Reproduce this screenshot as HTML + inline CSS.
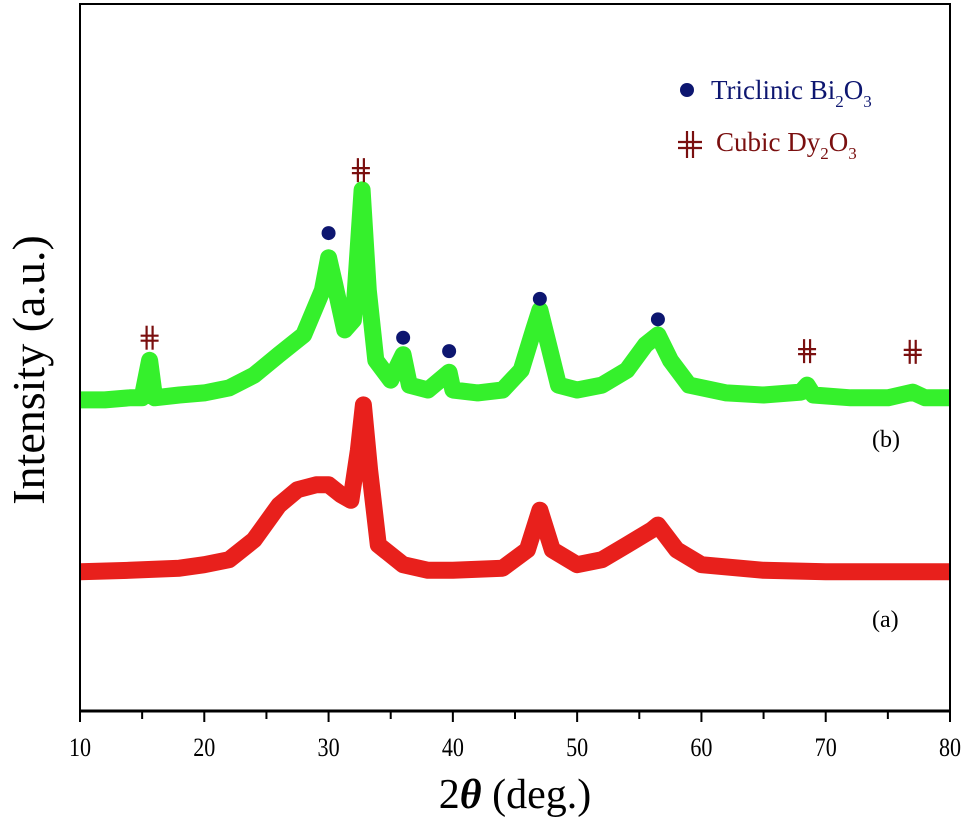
<!DOCTYPE html>
<html><head><meta charset="utf-8"><style>
body{margin:0;background:#fff;}
svg{display:block;font-family:"Liberation Serif",serif;}
</style></head><body>
<svg id="chart" width="969" height="827" viewBox="0 0 969 827" xmlns="http://www.w3.org/2000/svg">
<defs><clipPath id="pc"><rect x="80" y="4" width="870" height="707"/></clipPath></defs>
<g id="plot"></g>
</svg>
<script>
const xTicks=[10,20,30,40,50,60,70,80];
const xMinor=[15,25,35,45,55,65,75];
const greenX=[10,12,14,15,15.6,16,18,20,22,24,26,28,29.5,30,30.5,31.3,32,32.7,33.2,33.8,35,36,36.5,38,39.7,40,42,44,45.5,46.5,47,47.6,48.5,50,52,54,55.5,56.5,57.5,59,62,65,68,68.5,69,72,75,77,78,80];
const greenI=[44.0,44.0,44.3,44.3,49.6,44.3,44.7,45.0,45.7,47.5,50.4,53.2,59.5,64.1,60.3,53.9,55.3,73.7,59.5,49.6,46.8,50.4,46.1,45.4,47.9,45.4,45.0,45.4,48.2,53.9,56.7,52.5,46.1,45.4,46.1,48.2,51.8,53.2,49.6,46.1,45.0,44.7,45.1,46.1,44.7,44.3,44.3,45.1,44.3,44.3];
const redX=[10,14,18,20,22,24,26,27.5,29,30,31,31.8,32.4,32.8,33.3,34,36,38,40,44,46,47,48,50,52,54,56,56.5,58,60,65,70,75,80];
const redI=[19.7,19.9,20.2,20.7,21.4,24.2,29.1,31.3,32.0,32.0,30.6,29.8,36.9,43.3,34.1,23.5,20.7,19.9,19.9,20.2,22.8,28.4,22.8,20.7,21.4,23.5,25.6,26.3,22.8,20.7,19.9,19.7,19.7,19.7];
const biX=[30,36,39.7,47,56.5];
const biI=[67.6,52.8,50.9,58.3,55.4];
const dyX=[15.6,32.6,68.5,77];
const dyI=[52.8,76.5,50.9,50.8];

const L=80,R=950,T=4,B=711;
const sx=v=>L+(v-10)/70*(R-L);
const sy=v=>B-v*(B-T)/100;
const NS="http://www.w3.org/2000/svg";
const g=document.getElementById('plot');
function mk(tag,attrs,parent){const e=document.createElementNS(NS,tag);for(const k in attrs)e.setAttribute(k,attrs[k]);(parent||g).appendChild(e);return e;}

function series(xs,is,color,name){
  const pts=xs.map((x,i)=>sx(x).toFixed(1)+','+sy(is[i]).toFixed(1)).join(' ');
  const p=mk('polyline',{points:pts,fill:'none',stroke:color,'stroke-width':17,'stroke-linejoin':'round','stroke-linecap':'butt','clip-path':'url(#pc)'});
  
  
}
series(redX,redI,'#e8201c','series-a-red');
series(greenX,greenI,'#35f02c','series-b-green');

let f=mk('rect',{x:L,y:T,width:R-L,height:B-T,fill:'none',stroke:'#000','stroke-width':2});


let ax=mk('line',{x1:L,y1:B,x2:R,y2:B,stroke:'#000','stroke-width':3});



xTicks.forEach(v=>{
  const t=mk('line',{x1:sx(v),y1:B,x2:sx(v),y2:B+11,stroke:'#000','stroke-width':2});
  
  
  const lb=mk('text',{x:0,y:0,'font-size':26,'text-anchor':'middle',fill:'#000',transform:'translate('+sx(v)+','+(B+45)+') scale(0.85,1)'});
  lb.textContent=v;
  
  
});
xMinor.forEach(v=>{
  const t=mk('line',{x1:sx(v),y1:B,x2:sx(v),y2:B+8,stroke:'#000','stroke-width':2});
  
  
});

biX.forEach((x,i)=>{
  const c=mk('circle',{cx:sx(x),cy:sy(biI[i]),r:7,fill:'#0d1670'});
  
  
});
function dyMark(cx,cy,name){
  const grp=mk('g',{stroke:'#7a0f0f','stroke-width':2.2});
  
  
  mk('line',{x1:cx-3,y1:cy-12,x2:cx-3,y2:cy+12},grp);
  mk('line',{x1:cx+3,y1:cy-12,x2:cx+3,y2:cy+12},grp);
  mk('line',{x1:cx-9,y1:cy-2,x2:cx+9,y2:cy-2},grp);
  mk('line',{x1:cx-9,y1:cy+3,x2:cx+9,y2:cy+3},grp);
}
dyX.forEach((x,i)=>dyMark(sx(x),sy(dyI[i]),'dy2o3-marker'));
</script>
<script>
(function(){
const NS="http://www.w3.org/2000/svg";
const svg=document.getElementById('chart');
function tx(html,attrs,name){const e=document.createElementNS(NS,'text');for(const k in attrs)e.setAttribute(k,attrs[k]);e.innerHTML=html;svg.appendChild(e);return e;}
tx('Intensity (a.u.)',{x:0,y:0,'font-size':46,'text-anchor':'middle',transform:'translate(44,370) rotate(-90)'},'y-axis-title');
tx('2<tspan font-style="italic" font-weight="bold">θ</tspan> (deg.)',{x:515,y:808,'font-size':42,'text-anchor':'middle'},'x-axis-title');
tx('(b)',{x:872,y:447,'font-size':24},'label-b');
tx('(a)',{x:872,y:627,'font-size':24},'label-a');
const c=document.createElementNS(NS,'circle');c.setAttribute('cx',687);c.setAttribute('cy',90);c.setAttribute('r',7);c.setAttribute('fill','#0d1670');svg.appendChild(c);


tx('Triclinic Bi<tspan font-size="17" dy="8">2</tspan><tspan dy="-8">O</tspan><tspan font-size="17" dy="8">3</tspan>',{x:711,y:99,'font-size':27,fill:'#0d1670'},'legend-bi2o3');
const g=document.createElementNS(NS,'g');g.setAttribute('stroke','#7a0f0f');g.setAttribute('stroke-width','2.2');svg.appendChild(g);


[[687,131,687,158],[693,131,693,158],[678,142,702,142],[678,148,702,148]].forEach(a=>{const l=document.createElementNS(NS,'line');l.setAttribute('x1',a[0]);l.setAttribute('y1',a[1]);l.setAttribute('x2',a[2]);l.setAttribute('y2',a[3]);g.appendChild(l);});
tx('Cubic Dy<tspan font-size="17" dy="8">2</tspan><tspan dy="-8">O</tspan><tspan font-size="17" dy="8">3</tspan>',{x:716,y:151,'font-size':27,fill:'#7a0f0f'},'legend-dy2o3');
})();
</script>
</body></html>
